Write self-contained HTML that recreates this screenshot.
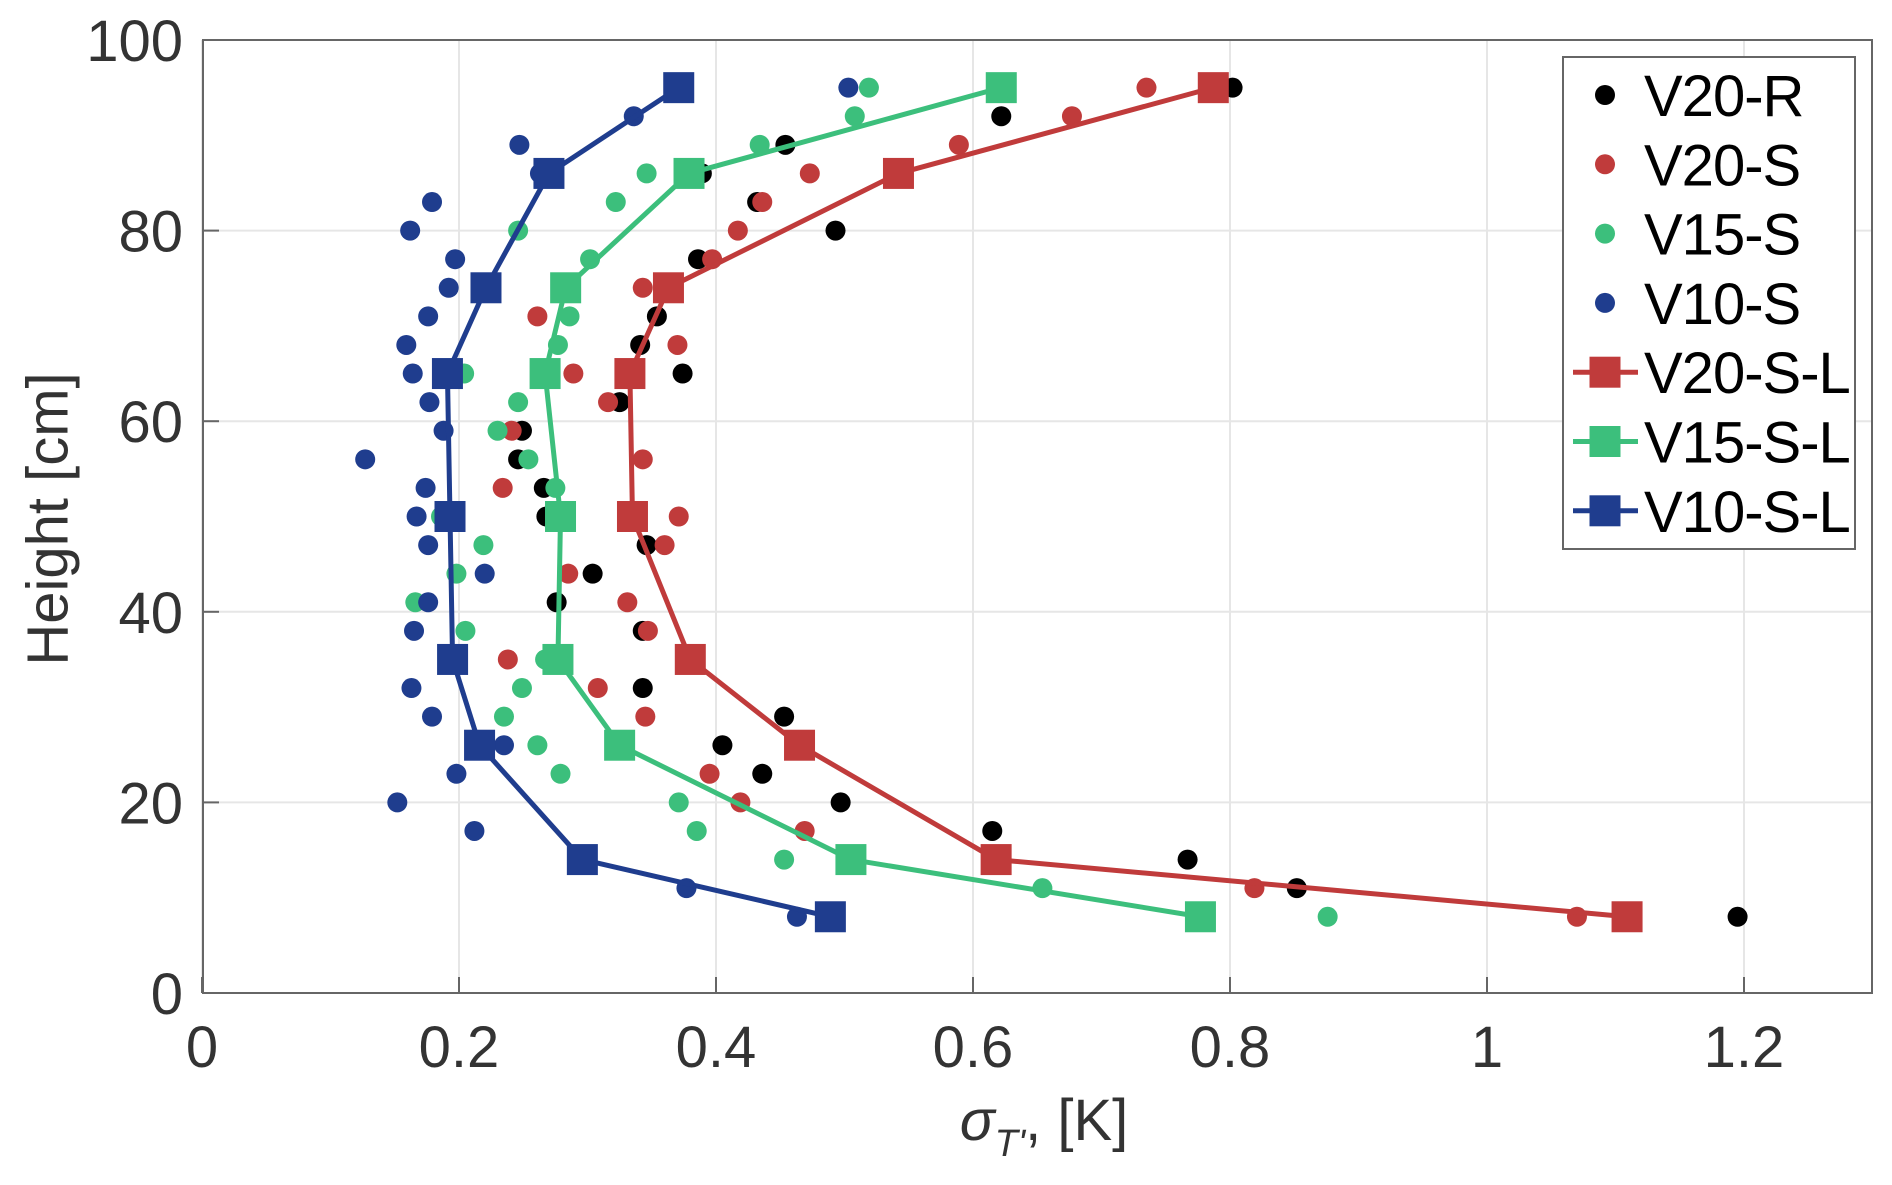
<!DOCTYPE html>
<html><head><meta charset="utf-8"><style>
html,body{margin:0;padding:0;background:#fff;}
svg{display:block;font-family:"Liberation Sans",Arial,sans-serif;}
</style></head><body>
<svg id="chart" width="1892" height="1185" viewBox="0 0 1892 1185" xmlns="http://www.w3.org/2000/svg">
<rect x="0" y="0" width="1892" height="1185" fill="#fff"/>
<g id="grid"></g>
<g id="series"></g>
<rect x="203" y="40" width="1669" height="953" fill="none" stroke="#666" stroke-width="2"/>
<g id="ticks"></g>
<text x="48" y="519" font-size="58" fill="#333" text-anchor="middle" dominant-baseline="central" transform="rotate(-90 48 519)">Height [cm]</text>
<text x="1044" y="1140" font-size="58" fill="#333" text-anchor="middle"><tspan font-style="italic">σ</tspan><tspan font-style="italic" font-size="38" dy="16">T'</tspan><tspan dy="-16">, [K]</tspan></text>
<g id="legend"></g>
</svg>
<script>
const heights = [95,92,89,86,83,80,77,74,71,68,65,62,59,56,53,50,47,44,41,38,35,32,29,26,23,20,17,14,11,8];
const v20R = [0.802,0.622,0.454,0.389,0.432,0.493,0.386,null,0.354,0.341,0.374,0.325,0.249,0.246,0.266,0.268,0.346,0.304,0.276,0.343,null,0.343,0.453,0.405,0.436,0.497,0.615,0.767,0.852,1.195];
const v20S = [0.735,0.677,0.589,0.473,0.436,0.417,0.397,0.343,0.261,0.370,0.289,0.316,0.241,0.343,0.234,0.371,0.360,0.285,0.331,0.347,0.238,0.308,0.345,null,0.395,0.419,0.469,null,0.819,1.070];
const v15S = [0.519,0.508,0.434,0.346,0.322,0.246,0.302,0.280,0.286,0.277,0.204,0.246,0.230,0.254,0.275,0.186,0.219,0.198,0.166,0.205,0.267,0.249,0.235,0.261,0.279,0.371,0.385,0.453,0.654,0.876];
const v10S = [0.503,0.336,0.247,0.263,0.179,0.162,0.197,0.192,0.176,0.159,0.164,0.177,0.188,0.127,0.174,0.167,0.176,0.220,0.176,0.165,0.195,0.163,0.179,0.235,0.198,0.152,0.212,0.296,0.377,0.463];
const lineHeights = [95,86,74,65,50,35,26,14,8];
const v20SL = [0.787,0.542,0.363,0.333,0.335,0.380,0.465,0.618,1.109];
const v15SL = [0.622,0.379,0.283,0.267,0.279,0.277,0.325,0.505,0.777];
const v10SL = [0.371,0.270,0.221,0.191,0.193,0.195,0.216,0.296,0.489];
const xTicks = [0,0.2,0.4,0.6,0.8,1,1.2];
const xTickLabels = ["0","0.2","0.4","0.6","0.8","1","1.2"];
const yTicks = [0,20,40,60,80,100];
const yTickLabels = ["0","20","40","60","80","100"];
const legendLabels = ["V20-R","V20-S","V15-S","V10-S","V20-S-L","V15-S-L","V10-S-L"];

const NS="http://www.w3.org/2000/svg";
const X0=202,XS=1285,Y0=993,YS=9.53;
function sx(v){return X0+v*XS;}
function sy(v){return Y0-v*YS;}
const C={k:"#000",r:"#c03b3b",g:"#3cbf7c",b:"#1f3d8e"};
function mk(tag,attrs,parent){const e=document.createElementNS(NS,tag);for(const k in attrs)e.setAttribute(k,attrs[k]);parent.appendChild(e);return e;}
const grid=document.getElementById('grid'),ticks=document.getElementById('ticks'),ser=document.getElementById('series'),leg=document.getElementById('legend');
xTicks.forEach((t,i)=>{
  const x=sx(t);
  const gl=mk('line',{x1:x,x2:x,y1:40,y2:993,stroke:"#e6e6e6","stroke-width":2},grid);
  
  
  const tk=mk('line',{x1:x,x2:x,y1:993,y2:977,stroke:"#666","stroke-width":2},ticks);
  
  
  const tl=mk('text',{x:x,y:1067,"font-size":58,fill:"#333","text-anchor":"middle"},ticks);
  tl.textContent=xTickLabels[i];
  
  
});
yTicks.forEach((t,i)=>{
  const y=sy(t);
  const gl=mk('line',{x1:203,x2:1872,y1:y,y2:y,stroke:"#e6e6e6","stroke-width":2},grid);
  
  
  const tk=mk('line',{x1:203,x2:219,y1:y,y2:y,stroke:"#666","stroke-width":2},ticks);
  
  
  const tl=mk('text',{x:183,y:y+21,"font-size":58,fill:"#333","text-anchor":"end"},ticks);
  tl.textContent=yTickLabels[i];
  
  
});
function dots(vals,col,name){
  vals.forEach((v,i)=>{ if(v===null)return;
    const c=mk('circle',{cx:sx(v),cy:sy(heights[i]),r:10,fill:col},ser);
    
    
  });
}
function lineSeries(vals,col,name){
  const pts=vals.map((v,i)=>sx(v)+","+sy(lineHeights[i])).join(" ");
  const pl=mk('polyline',{points:pts,fill:"none",stroke:col,"stroke-width":5,"stroke-linejoin":"round"},ser);
  
  
  vals.forEach((v,i)=>{
    const r=mk('rect',{x:sx(v)-15.5,y:sy(lineHeights[i])-15.5,width:31,height:31,fill:col},ser);
    
    
  });
}
dots(v20R,C.k,'v20-r');
dots(v20S,C.r,'v20-s');
dots(v15S,C.g,'v15-s');
dots(v10S,C.b,'v10-s');
lineSeries(v20SL,C.r,'v20-s-l');
lineSeries(v15SL,C.g,'v15-s-l');
lineSeries(v10SL,C.b,'v10-s-l');
// legend
const lb=mk('rect',{x:1563,y:57,width:292,height:492,fill:"#fff",stroke:"#666","stroke-width":2},leg);


const legCols=[C.k,C.r,C.g,C.b,C.r,C.g,C.b];
legendLabels.forEach((lab,i)=>{
  const y=95+i*69.3;
  const g=mk('g',{},leg);
  
  
  if(i<4){ mk('circle',{cx:1605,cy:y,r:10,fill:legCols[i]},g); }
  else { mk('line',{x1:1573,x2:1638,y1:y,y2:y,stroke:legCols[i],"stroke-width":5},g);
         mk('rect',{x:1589.5,y:y-15.5,width:31,height:31,fill:legCols[i]},g); }
  const t=mk('text',{x:1644,y:y+21,"font-size":58,"letter-spacing":-1,fill:"#000"},g);
  t.textContent=lab;
});
</script>
</body></html>
